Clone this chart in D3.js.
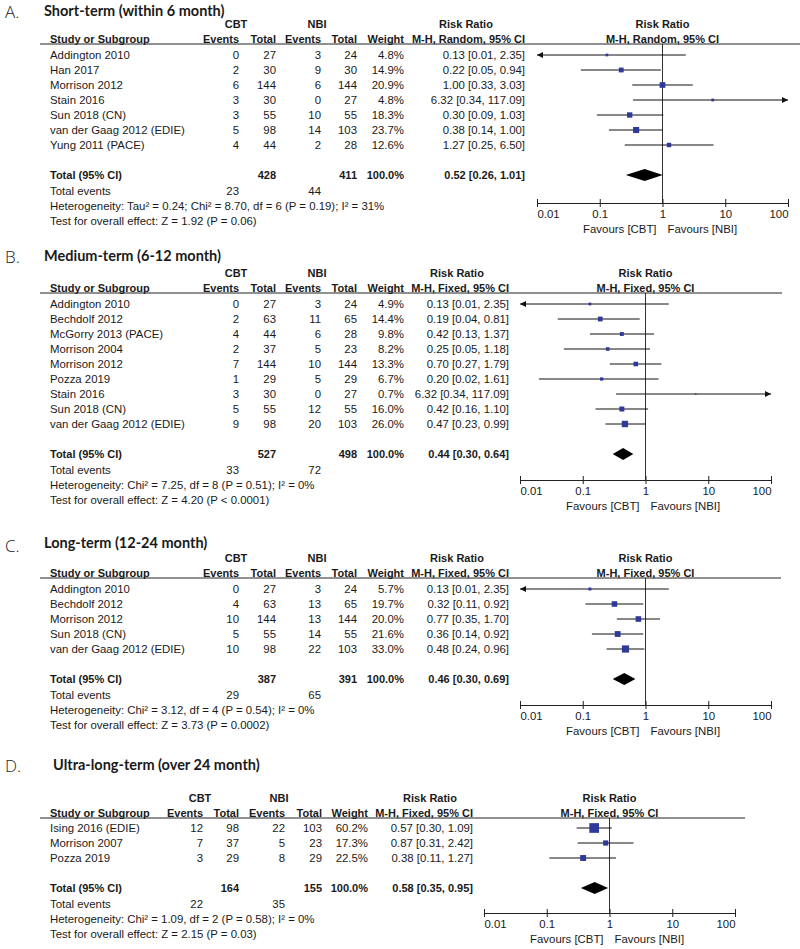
<!DOCTYPE html>
<html>
<head>
<meta charset="utf-8">
<script src="https://cdn.jsdelivr.net/npm/d3@7"></script>
<style>
  body { margin: 0; background: #fff; }
  text { font-family: "Liberation Sans", Arial, sans-serif; font-size: 11.4px; fill: #1a1a1a; }
  .bold { font-weight: bold; font-size: 11px; }
  .title { font-family: Lato, "Open Sans", sans-serif; font-size: 14.5px; font-weight: bold; }
  .letter { font-family: "Open Sans", Lato, sans-serif; font-size: 17px; font-weight: 300; }
</style>
</head>
<body>
<div id="chart"></div>
<script>
// ---- A. short-term
var aStudies = ["Addington 2010", "Han 2017", "Morrison 2012", "Stain 2016", "Sun 2018 (CN)", "van der Gaag 2012 (EDIE)", "Yung 2011 (PACE)"];
var aCbtEvents = [0, 2, 6, 3, 3, 5, 4];
var aCbtTotal = [27, 30, 144, 30, 55, 98, 44];
var aNbiEvents = [3, 9, 6, 0, 10, 14, 2];
var aNbiTotal = [24, 30, 144, 27, 55, 103, 28];
var aWeight = [4.8, 14.9, 20.9, 4.8, 18.3, 23.7, 12.6];
var aRR = [0.13, 0.22, 1.00, 6.32, 0.30, 0.38, 1.27];
var aLow = [0.01, 0.05, 0.33, 0.34, 0.09, 0.14, 0.25];
var aHigh = [2.35, 0.94, 3.03, 117.09, 1.03, 1.00, 6.50];
var aTotals = [428, 411, 23, 44];   // CBT total, NBI total, CBT events, NBI events
var aPooled = [0.52, 0.26, 1.01];
var aStats = ["Heterogeneity: Tau² = 0.24; Chi² = 8.70, df = 6 (P = 0.19); I² = 31%",
              "Test for overall effect: Z = 1.92 (P = 0.06)"];

// ---- B. medium-term
var bStudies = ["Addington 2010", "Bechdolf 2012", "McGorry 2013 (PACE)", "Morrison 2004", "Morrison 2012", "Pozza 2019", "Stain 2016", "Sun 2018 (CN)", "van der Gaag 2012 (EDIE)"];
var bCbtEvents = [0, 2, 4, 2, 7, 1, 3, 5, 9];
var bCbtTotal = [27, 63, 44, 37, 144, 29, 30, 55, 98];
var bNbiEvents = [3, 11, 6, 5, 10, 5, 0, 12, 20];
var bNbiTotal = [24, 65, 28, 23, 144, 29, 27, 55, 103];
var bWeight = [4.9, 14.4, 9.8, 8.2, 13.3, 6.7, 0.7, 16.0, 26.0];
var bRR = [0.13, 0.19, 0.42, 0.25, 0.70, 0.20, 6.32, 0.42, 0.47];
var bLow = [0.01, 0.04, 0.13, 0.05, 0.27, 0.02, 0.34, 0.16, 0.23];
var bHigh = [2.35, 0.81, 1.37, 1.18, 1.79, 1.61, 117.09, 1.10, 0.99];
var bTotals = [527, 498, 33, 72];
var bPooled = [0.44, 0.30, 0.64];
var bStats = ["Heterogeneity: Chi² = 7.25, df = 8 (P = 0.51); I² = 0%",
              "Test for overall effect: Z = 4.20 (P < 0.0001)"];

// ---- C. long-term
var cStudies = ["Addington 2010", "Bechdolf 2012", "Morrison 2012", "Sun 2018 (CN)", "van der Gaag 2012 (EDIE)"];
var cCbtEvents = [0, 4, 10, 5, 10];
var cCbtTotal = [27, 63, 144, 55, 98];
var cNbiEvents = [3, 13, 13, 14, 22];
var cNbiTotal = [24, 65, 144, 55, 103];
var cWeight = [5.7, 19.7, 20.0, 21.6, 33.0];
var cRR = [0.13, 0.32, 0.77, 0.36, 0.48];
var cLow = [0.01, 0.11, 0.35, 0.14, 0.24];
var cHigh = [2.35, 0.92, 1.70, 0.92, 0.96];
var cTotals = [387, 391, 29, 65];
var cPooled = [0.46, 0.30, 0.69];
var cStats = ["Heterogeneity: Chi² = 3.12, df = 4 (P = 0.54); I² = 0%",
              "Test for overall effect: Z = 3.73 (P = 0.0002)"];

// ---- D. ultra-long-term
var dStudies = ["Ising 2016 (EDIE)", "Morrison 2007", "Pozza 2019"];
var dCbtEvents = [12, 7, 3];
var dCbtTotal = [98, 37, 29];
var dNbiEvents = [22, 5, 8];
var dNbiTotal = [103, 23, 29];
var dWeight = [60.2, 17.3, 22.5];
var dRR = [0.57, 0.87, 0.38];
var dLow = [0.30, 0.31, 0.11];
var dHigh = [1.09, 2.42, 1.27];
var dTotals = [164, 155, 22, 35];
var dPooled = [0.58, 0.35, 0.95];
var dStats = ["Heterogeneity: Chi² = 1.09, df = 2 (P = 0.58); I² = 0%",
              "Test for overall effect: Z = 2.15 (P = 0.03)"];

var letters = ["A.", "B.", "C.", "D."];
var titles = ["Short-term (within 6 month)", "Medium-term (6-12 month)", "Long-term (12-24 month)", "Ultra-long-term (over 24 month)"];
var methods = ["M-H, Random, 95% CI", "M-H, Fixed, 95% CI", "M-H, Fixed, 95% CI", "M-H, Fixed, 95% CI"];
var tickValues = [0.01, 0.1, 1, 10, 100];
var tickLabels = ["0.01", "0.1", "1", "10", "100"];
var favours = ["Favours [CBT]", "Favours [NBI]"];

var panels = [
  { studies: aStudies, ce: aCbtEvents, ct: aCbtTotal, ne: aNbiEvents, nt: aNbiTotal, w: aWeight, rr: aRR, lo: aLow, hi: aHigh, totals: aTotals, pooled: aPooled, stats: aStats },
  { studies: bStudies, ce: bCbtEvents, ct: bCbtTotal, ne: bNbiEvents, nt: bNbiTotal, w: bWeight, rr: bRR, lo: bLow, hi: bHigh, totals: bTotals, pooled: bPooled, stats: bStats },
  { studies: cStudies, ce: cCbtEvents, ct: cCbtTotal, ne: cNbiEvents, nt: cNbiTotal, w: cWeight, rr: cRR, lo: cLow, hi: cHigh, totals: cTotals, pooled: cPooled, stats: cStats },
  { studies: dStudies, ce: dCbtEvents, ct: dCbtTotal, ne: dNbiEvents, nt: dNbiTotal, w: dWeight, rr: dRR, lo: dLow, hi: dHigh, totals: dTotals, pooled: dPooled, stats: dStats }
];

// layout of each panel (pixels)
var layout = [
  { letterY: 18, titleX: 44, titleY: 16, groupY: 28, headY: 43, row0: 59, axisY: 203, x0: 537, x1: 788, lineEnd: 800,
    cols: [239, 276, 321, 357, 404, 525], rrHead: 466, cbtX: 236, nbiX: 317 },
  { letterY: 263, titleX: 44, titleY: 261, groupY: 277, headY: 292, row0: 308, axisY: 480, x0: 520, x1: 771, lineEnd: 782,
    cols: [239, 276, 321, 357, 404, 509], rrHead: 457, cbtX: 236, nbiX: 317 },
  { letterY: 552, titleX: 44, titleY: 548, groupY: 562, headY: 577, row0: 593, axisY: 705, x0: 520, x1: 771, lineEnd: 781,
    cols: [239, 276, 321, 357, 404, 509], rrHead: 457, cbtX: 236, nbiX: 317 },
  { letterY: 772, titleX: 53, titleY: 770, groupY: 802, headY: 817, row0: 832, axisY: 913, x0: 484, x1: 735, lineEnd: 745,
    cols: [203, 239, 285, 322, 368, 473], rrHead: 430, cbtX: 200, nbiX: 279 }
];

var step = 15;
var blue = "#2f3a98";
var f2 = d3.format(".2f"), f1 = d3.format(".1f");

var svg = d3.select("#chart").append("svg")
    .attr("width", 800)
    .attr("height", 949);

function ciText(r, l, h) {
  return f2(r) + " [" + f2(l) + ", " + f2(h) + "]";
}

function side(w) {
  return Math.max(1.25 * Math.sqrt(w), 1.5);
}

panels.forEach(function (p, k) {
  var L = layout[k];
  var g = svg.append("g");
  var n = p.studies.length;
  var x = d3.scaleLog().domain([0.01, 100]).range([L.x0, L.x1]);
  var xMid = x(1);
  var totalY = L.row0 + n * step + 15;

  g.append("text").attr("class", "letter").attr("x", 5).attr("y", L.letterY).text(letters[k]);
  g.append("text").attr("class", "title").attr("x", L.titleX).attr("y", L.titleY).text(titles[k]);

  // group headers
  g.append("text").attr("class", "bold").attr("x", L.cbtX).attr("y", L.groupY).attr("text-anchor", "middle").text("CBT");
  g.append("text").attr("class", "bold").attr("x", L.nbiX).attr("y", L.groupY).attr("text-anchor", "middle").text("NBI");
  g.append("text").attr("class", "bold").attr("x", L.rrHead).attr("y", L.groupY).attr("text-anchor", "middle").text("Risk Ratio");
  g.append("text").attr("class", "bold").attr("x", xMid).attr("y", L.groupY).attr("text-anchor", "middle").text("Risk Ratio");

  // column headers
  g.append("text").attr("class", "bold").attr("x", 50).attr("y", L.headY).text("Study or Subgroup");
  ["Events", "Total", "Events", "Total", "Weight", methods[k]].forEach(function (h, i) {
    g.append("text").attr("class", "bold").attr("x", L.cols[i]).attr("y", L.headY)
      .attr("text-anchor", "end").text(h);
  });
  g.append("text").attr("class", "bold").attr("x", xMid).attr("y", L.headY).attr("text-anchor", "middle").text(methods[k]);

  g.append("line").attr("x1", 40).attr("x2", L.lineEnd).attr("y1", L.headY + 1).attr("y2", L.headY + 1)
    .attr("stroke", "#222").attr("stroke-width", 1);

  // reference line at 1
  g.append("line").attr("x1", xMid).attr("x2", xMid).attr("y1", L.headY + 1).attr("y2", L.axisY)
    .attr("stroke", "#333").attr("stroke-width", 1);

  // study rows
  var rows = g.selectAll(".row").data(p.studies).enter().append("g")
    .attr("class", "row")
    .attr("transform", function (d, i) { return "translate(0," + (L.row0 + i * step) + ")"; });

  rows.append("text").attr("x", 50).text(function (d) { return d; });
  var cells = [p.ce, p.ct, p.ne, p.nt];
  cells.forEach(function (arr, c) {
    rows.append("text").attr("x", L.cols[c]).attr("text-anchor", "end")
      .text(function (d, i) { return arr[i]; });
  });
  rows.append("text").attr("x", L.cols[4]).attr("text-anchor", "end")
    .text(function (d, i) { return f1(p.w[i]) + "%"; });
  rows.append("text").attr("x", L.cols[5]).attr("text-anchor", "end")
    .text(function (d, i) { return ciText(p.rr[i], p.lo[i], p.hi[i]); });

  // CI lines
  rows.append("line")
    .attr("x1", function (d, i) { return x(Math.max(p.lo[i], 0.01)); })
    .attr("x2", function (d, i) { return x(Math.min(p.hi[i], 100)); })
    .attr("y1", -4).attr("y2", -4)
    .attr("stroke", "#111").attr("stroke-width", 1);

  rows.filter(function (d, i) { return p.lo[i] <= 0.01; }).append("path")
    .attr("d", "M" + L.x0 + ",-4 l6,-3 l0,6 z").attr("fill", "#111");
  rows.filter(function (d, i) { return p.hi[i] >= 100; }).append("path")
    .attr("d", "M" + L.x1 + ",-4 l-6,-3 l0,6 z").attr("fill", "#111");

  // weight squares
  rows.append("rect")
    .attr("x", function (d, i) { return x(p.rr[i]) - side(p.w[i]) / 2; })
    .attr("y", function (d, i) { return -4 - side(p.w[i]) / 2; })
    .attr("width", function (d, i) { return side(p.w[i]); })
    .attr("height", function (d, i) { return side(p.w[i]); })
    .attr("fill", blue);

  // total row
  g.append("text").attr("class", "bold").attr("x", 50).attr("y", totalY).text("Total (95% CI)");
  g.append("text").attr("class", "bold").attr("x", L.cols[1]).attr("y", totalY).attr("text-anchor", "end").text(p.totals[0]);
  g.append("text").attr("class", "bold").attr("x", L.cols[3]).attr("y", totalY).attr("text-anchor", "end").text(p.totals[1]);
  g.append("text").attr("class", "bold").attr("x", L.cols[4]).attr("y", totalY).attr("text-anchor", "end").text("100.0%");
  g.append("text").attr("class", "bold").attr("x", L.cols[5]).attr("y", totalY).attr("text-anchor", "end")
    .text(ciText(p.pooled[0], p.pooled[1], p.pooled[2]));

  var dy = totalY - 4;
  g.append("path")
    .attr("d", "M" + x(p.pooled[1]) + "," + dy + " L" + x(p.pooled[0]) + "," + (dy - 6) +
               " L" + x(p.pooled[2]) + "," + dy + " L" + x(p.pooled[0]) + "," + (dy + 6) + " Z")
    .attr("fill", "#000");

  g.append("text").attr("x", 50).attr("y", totalY + 16).text("Total events");
  g.append("text").attr("x", L.cols[0]).attr("y", totalY + 16).attr("text-anchor", "end").text(p.totals[2]);
  g.append("text").attr("x", L.cols[2]).attr("y", totalY + 16).attr("text-anchor", "end").text(p.totals[3]);
  g.append("text").attr("x", 50).attr("y", totalY + 31).text(p.stats[0]);
  g.append("text").attr("x", 50).attr("y", totalY + 46).text(p.stats[1]);

  // axis
  var axis = d3.axisBottom(x).tickValues(tickValues)
    .tickFormat(function (d, i) { return tickLabels[i]; })
    .tickSizeOuter(0).tickSizeInner(4);
  var ax = g.append("g").attr("transform", "translate(0," + L.axisY + ")").call(axis);
  ax.select(".domain").attr("stroke", "#222");
  ax.selectAll(".tick line").attr("y1", -4).attr("y2", 4).attr("stroke", "#222");
  ax.selectAll(".tick text")
    .attr("y", 15).attr("dy", 0)
    .style("font-family", "'Liberation Sans', Arial, sans-serif").style("font-size", "11.4px").attr("fill", "#1a1a1a")
    .attr("text-anchor", function (d, i) { return i === 0 ? "start" : (i === tickValues.length - 1 ? "end" : "middle"); });

  g.append("text").attr("x", xMid - 6).attr("y", L.axisY + 30).attr("text-anchor", "end").text(favours[0]);
  g.append("text").attr("x", xMid + 5).attr("y", L.axisY + 30).text(favours[1]);
});
</script>
</body>
</html>
